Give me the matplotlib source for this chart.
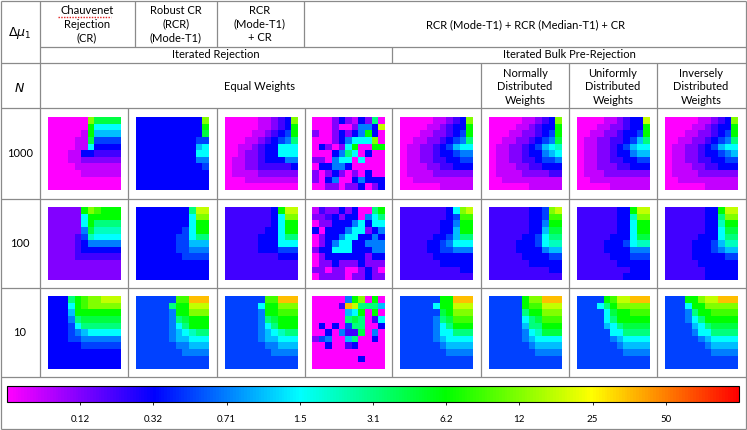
import numpy as np
import matplotlib.pyplot as plt
from matplotlib.colors import LinearSegmentedColormap, Normalize
from matplotlib.cm import ScalarMappable

# each character = position on the colour scale, in half steps (0 .. 10)
CODES = "0123456789ABCDEFGHIJK"

row_labels = ["1000", "100", "10"]
cbar_labels = ["0.12", "0.32", "0.71", "1.5", "3.1", "6.2", "12", "25", "50"]

# 8 maps per row: CR, RCR, RCR+CR, scatter, equal, normal, uniform, inverse
maps_1000 = [
    ["000000EBBBB", "000000C8888", "000001C7777", "000011B5555", "00001184444", "00011443333",
     "00011222222", "00001111111", "00000111111", "00000000000", "00000000000"],
    ["4444444444E", "4444444444C", "4444444444B", "44444444455", "44444444478", "44444444488",
     "44444444466", "44444444445", "44444444444", "44444444444", "44444444444"],
    ["0000011234E", "0000011234C", "0000112345C", "0001123456A", "00112344888", "00122344888",
     "01122344466", "01122333334", "01111222222", "00011111111", "00000000000"],
    ["000242142A0", "0002002664F", "20024246C40", "000246888E0", "042028C00CC", "00046A80400",
     "22068808000", "04466400000", "20242020400", "20460046444", "00220224024"],
    ["0000011234E", "0000112344C", "0001122345C", "0011223456A", "01122345788", "01122344566",
     "01122334455", "01112233444", "01111222222", "00111111111", "00000011111"],
    ["0000011234E", "0000112344C", "0001122345C", "0011223456B", "01122345789", "01122344678",
     "01122334556", "01112233444", "01111222233", "00111111111", "00000011111"],
    ["0000112344F", "0001122344C", "0011223445C", "0112233457A", "01122345788", "01122344677",
     "01122334455", "01122233444", "01112222222", "00111111111", "00000111111"],
    ["0000011234E", "0000112344C", "0001122345C", "0011223456A", "01122345788", "01122344567",
     "01122334455", "01112233444", "01111222222", "00111111111", "00000011111"],
]

maps_100 = [
    ["22222CEDCCC", "222228CCCCC", "222228CAAAA", "222226B9999", "22223598888", "22223466666",
     "22223444444", "22223333333", "22222222222", "22222222222", "22222222222"],
    ["44444444AFF", "444444448EE", "444444448CC", "444444458CC", "444444558AA", "44444455777",
     "44444455666", "44444445555", "44444444444", "44444444444", "44444444444"],
    ["33333334CFF", "333333348EE", "333333348CC", "333333448CC", "333334448AA", "33333444888",
     "33333444555", "33333333444", "33333333333", "33333333333", "33333333333"],
    ["132242400AC", "2234244068A", "02244468488", "40444688246", "02446884464", "02468844666",
     "24488844466", "02444444244", "02242224222", "22022002420", "02222022422"],
    ["333333348EF", "333333345DD", "333333446CC", "333333447CC", "333334457AA", "33334456888",
     "33334455666", "33333444444", "33333344444", "33333333344", "33333333333"],
    ["333333445EF", "333333445DD", "333333446CC", "333333447BB", "333334458AA", "33334445899",
     "33334444677", "33333444455", "33333344444", "33333333344", "33333333333"],
    ["33333344CFF", "333333449EE", "333333448CC", "333333448CC", "333334448BB", "33334445899",
     "33334444666", "33333444555", "33333344444", "33333333444", "33333334444"],
    ["33333344CFF", "33333344AEE", "333333449CC", "333333448BB", "333334448AA", "33334445799",
     "33334445677", "33334444455", "33333444444", "33333344444", "33333344444"],
]

maps_10 = [
    ["444ACDEEFFF", "4448CDEEEEE", "4447CCCCCCC", "4446ABBBBBB", "44458AAAAAA", "44456788888",
     "44455666666", "44444555555", "44444444444", "44444444444", "44444444444"],
    ["555555DDHHH", "55555ACCFFF", "555556CCEEE", "555556ABCCC", "5555568ACCC", "555556789AA",
     "55555677888", "55555566777", "55555556666", "55555555555", "55555555555"],
    ["555555DDHHH", "555558CCEEE", "555556CCDDD", "555556ABCCC", "5555568ACCC", "555556789AA",
     "55555677888", "55555566777", "55555556666", "55555555555", "55555555555"],
    ["000006CE0C0", "00003HFAAA7", "0000078C0C0", "00000ABA038", "040405AA004", "0040633B060",
     "256007A0040", "00400340000", "00000000000", "00000004000", "00000000000"],
    ["555555CCHHH", "555558CCFFF", "555555BCEEE", "555556ABDDD", "5555568ACCC", "55555688AAA",
     "55555678888", "55555567777", "55555556666", "55555555555", "55555555555"],
    ["55555CEEHHH", "55555CDDFFF", "55555ACCEEE", "555558ABDDD", "555557AACCC", "55555689BBB",
     "55555678888", "55555567777", "55555556666", "55555555555", "55555555555"],
    ["5555CDFFHHH", "5558ACEEEEE", "55558BCCDDD", "55558ACCCCC", "555578ABBBB", "5555588AAAA",
     "55555678888", "55555567777", "55555556666", "55555555555", "55555555555"],
    ["555CCEFFHHH", "5558CCEEEEE", "5556ACCDDDD", "55568ACCCCC", "555578ABBBB", "5555688AAAA",
     "55555678888", "55555567777", "55555556666", "55555555555", "55555555555"],
]


def decode(rows):
    return np.array([[CODES.index(ch) / 2.0 for ch in r] for r in rows])


W, H = 747, 430
cmap = LinearSegmentedColormap.from_list(
    "rainbow_m", ["#ff00ff", "#0000ff", "#00ffff", "#00ff00", "#ffff00", "#ff0000"])
norm = Normalize(0, 10)

plt.rcParams["font.family"] = ["Lato", "DejaVu Sans"]
fig = plt.figure(figsize=(W / 100, H / 100), dpi=100)
ax = fig.add_axes([0, 0, 1, 1])
ax.set_xlim(0, W)
ax.set_ylim(H, 0)
ax.axis("off")

LC = "#8a8a8a"


def hl(y, x0, x1):
    ax.plot([x0, x1], [y, y], color=LC, lw=0.9, solid_capstyle="butt")


def vl(x, y0, y1):
    ax.plot([x, x], [y0, y1], color=LC, lw=0.9, solid_capstyle="butt")


col_edges = [40, 128, 217, 305, 392, 481, 569, 657, 746]
row_edges = [108, 199, 288, 377]

# table grid
hl(1, 1, 746); hl(429, 1, 746); vl(1, 1, 429); vl(746, 1, 429)
vl(40, 1, 377)
for x in [135, 217, 304]:
    vl(x, 1, 47)
hl(47, 40, 746)
hl(63, 1, 746)
vl(392, 47, 63)
for x in [481, 569, 657]:
    vl(x, 63, 108)
hl(108, 1, 746)
for y in row_edges[1:]:
    hl(y, 1, 746)
for x in col_edges[1:-1]:
    vl(x, 108, 377)

fs = 8
ax.text(20, 33, r"$\Delta\mu_1$", ha="center", va="center", fontsize=9)
ax.text(20, 87, r"$N$", ha="center", va="center", fontsize=9)
ax.text(87, 24, "Chauvenet\nRejection\n(CR)", ha="center", va="center", fontsize=fs, linespacing=1.3)
ax.plot([58, 111], [17, 17], color="#e02020", lw=1.0, ls=(0, (1, 1)))
ax.text(176, 24, "Robust CR\n(RCR)\n(Mode-T1)", ha="center", va="center", fontsize=fs, linespacing=1.3)
ax.text(260, 24, "RCR\n(Mode-T1)\n+ CR", ha="center", va="center", fontsize=fs, linespacing=1.3)
ax.text(525, 25, "RCR (Mode-T1) + RCR (Median-T1) + CR", ha="center", va="center", fontsize=fs)
ax.text(216, 55, "Iterated Rejection", ha="center", va="center", fontsize=fs)
ax.text(569, 55, "Iterated Bulk Pre-Rejection", ha="center", va="center", fontsize=fs)
ax.text(260, 86, "Equal Weights", ha="center", va="center", fontsize=fs)
for cx, word in zip([525, 613, 701], ["Normally", "Uniformly", "Inversely"]):
    ax.text(cx, 87, word + "\nDistributed\nWeights", ha="center", va="center",
            fontsize=fs, linespacing=1.3)

# heatmaps
size = 73
for i, maps in enumerate([maps_1000, maps_100, maps_10]):
    cy = (row_edges[i] + row_edges[i + 1]) / 2
    ax.text(20, cy, row_labels[i], ha="center", va="center", fontsize=fs)
    for j, m in enumerate(maps):
        cx = (col_edges[j] + col_edges[j + 1]) / 2
        ax.imshow(decode(m), cmap=cmap, norm=norm, interpolation="nearest", aspect="auto",
                  extent=[cx - size / 2, cx + size / 2, cy + size / 2, cy - size / 2])
ax.set_xlim(0, W)
ax.set_ylim(H, 0)

# colour bar
cax = fig.add_axes([7 / W, (H - 402) / H, 732 / W, 16 / H])
cb = fig.colorbar(ScalarMappable(norm=norm, cmap=cmap), cax=cax, orientation="horizontal",
                  ticks=range(1, 10))
cb.set_ticklabels(cbar_labels)
cb.outline.set_linewidth(0.8)
cax.tick_params(length=2.5, width=0.6, pad=7, labelsize=7)

fig.savefig("out.png", dpi=100)
